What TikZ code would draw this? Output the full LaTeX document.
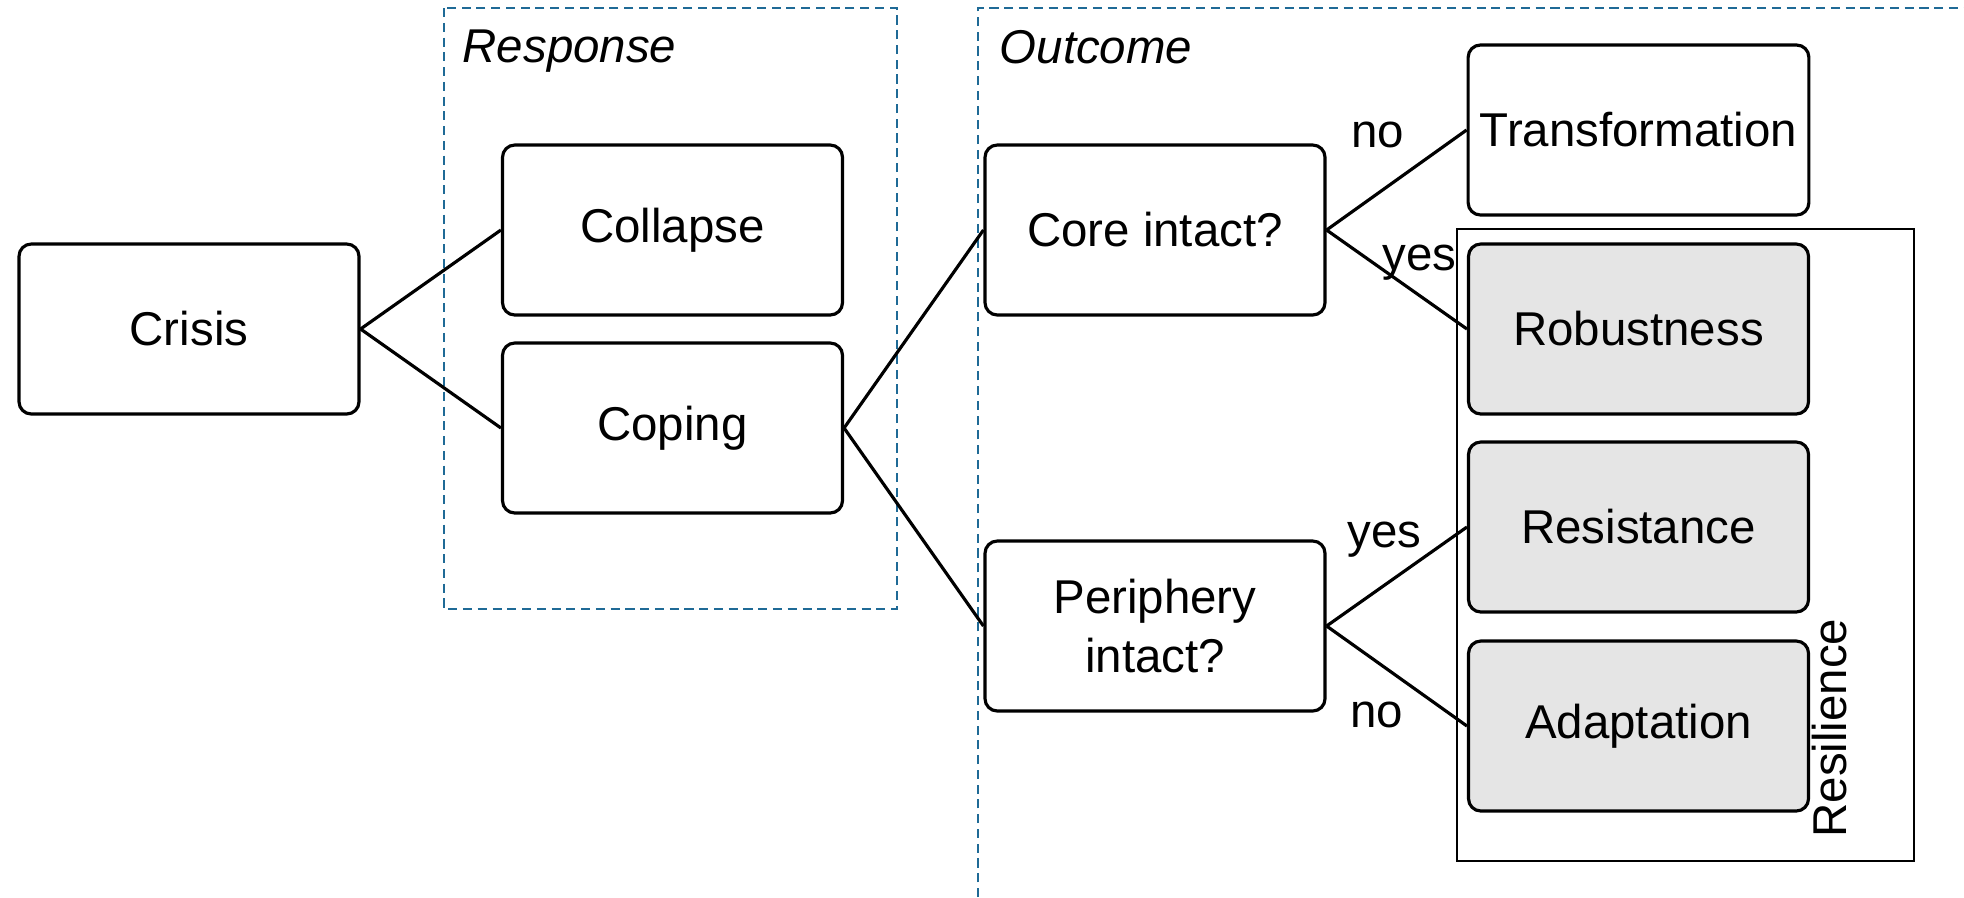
\documentclass[tikz,border=0pt]{standalone}
\usepackage{fontspec}
\setmainfont{Liberation Sans}
\usepackage{tikz}
\usetikzlibrary{shapes,arrows}
\definecolor{framecol}{RGB}{31,106,150}
\tikzstyle{block} = [rectangle, draw, line width=0.9pt, rounded corners=3.5pt,
    minimum width=3.4cm, minimum height=1.7cm, align=center]
\tikzstyle{resil} = [block, fill=gray!20]
\tikzstyle{line} = [draw, line width=0.9pt]
\tikzstyle{frame} = [draw=framecol, line width=0.6pt, dash pattern=on 2.6pt off 1.6pt]
\tikzstyle{tag} = [inner sep=0pt]

\begin{document}
\begin{tikzpicture}[font=\fontsize{13.5}{17}\selectfont]
    \useasboundingbox (0,0) rectangle (19.64,-8.97);
    % Frames
    \coordinate (outbot) at (9.78,-8.97);
    \coordinate (outright) at (19.64,-0.08);
    \draw [frame] (4.44,-0.08) rectangle (8.97,-6.09);
    \draw [frame] (outbot) |- (outright);
    \draw [line width=0.5pt] (14.57,-2.29) rectangle (19.14,-8.61);
    \node [tag, anchor=base west] (resp) at (4.62,-0.62) {\itshape Response};
    \node [tag, anchor=base west] (outc) at (9.99,-0.63) {\itshape Outcome};

    % Place nodes
    \node [block] (crisis) at (1.89,-3.29) {Crisis};
    \node [block, right of=crisis, node distance=4.835cm, yshift=0.99cm] (collapse) {Collapse};
    \node [block, below of=collapse, node distance=1.98cm] (coping) {Coping};
    \node [block, right of=collapse, node distance=4.825cm] (core) {Core intact?};
    \node [block, below of=core, node distance=3.96cm] (periph) {Periphery\\intact?};
    \node [block, right of=core, node distance=4.835cm, yshift=1.0cm] (transf) {Transformation};
    \node [resil, below of=transf, node distance=1.99cm] (robust) {Robustness};
    \node [resil, below of=robust, node distance=1.98cm] (resist) {Resistance};
    \node [resil, below of=resist, node distance=1.99cm] (adapt) {Adaptation};
    \node [tag, rotate=90] (resilience) at (18.30,-7.28) {Resilience};

    % Draw edges
    \path [line] (crisis.east) -- (collapse.west);
    \path [line] (crisis.east) -- (coping.west);
    \path [line] (coping.east) -- (core.west);
    \path [line] (coping.east) -- (periph.west);
    \path [line] (core.east) -- node [xshift=-0.19cm, yshift=0.45cm] {no} (transf.west);
    \path [line] (core.east) -- node [xshift=0.23cm, yshift=0.17cm] {yes} (robust.west);
    \path [line] (periph.east) -- node [xshift=-0.12cm, yshift=0.37cm] {yes} (resist.west);
    \path [line] (periph.east) -- node [xshift=-0.20cm, yshift=-0.39cm] {no} (adapt.west);
\end{tikzpicture}
\end{document}
